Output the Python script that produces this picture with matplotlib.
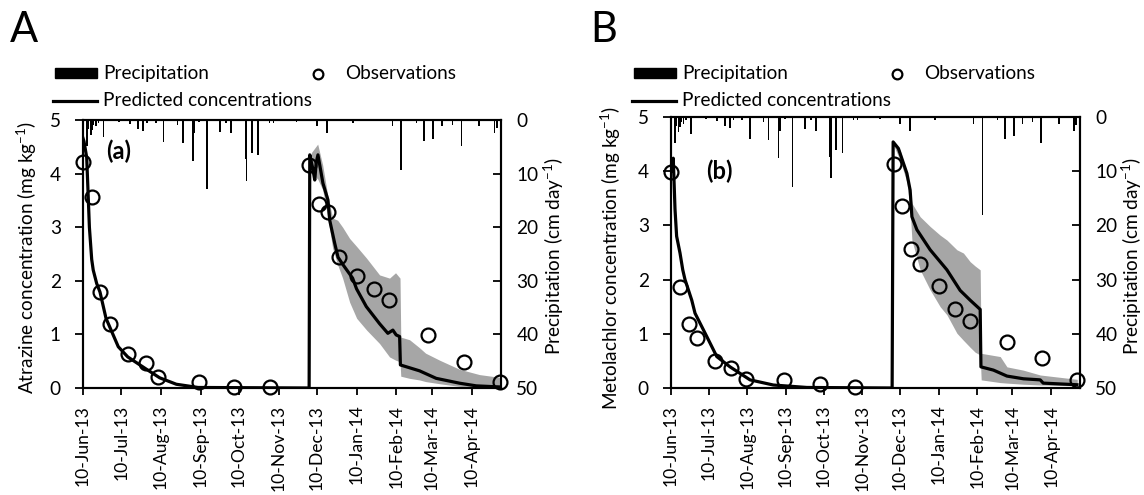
import matplotlib
matplotlib.use('Agg')
import matplotlib.pyplot as plt
import numpy as np
import pandas as pd
from matplotlib.lines import Line2D
from matplotlib.patches import Rectangle

plt.rcParams['font.family'] = ['Lato', 'DejaVu Sans']
plt.rcParams['mathtext.fontset'] = 'custom'
plt.rcParams['mathtext.rm'] = 'Lato'
plt.rcParams['mathtext.default'] = 'regular'

# ---------------- data ----------------
start_date = pd.Timestamp('2013-06-10')
end_date = pd.Timestamp('2014-05-03')
tick_labels = ['10-Jun-13', '10-Jul-13', '10-Aug-13', '10-Sep-13', '10-Oct-13',
               '10-Nov-13', '10-Dec-13', '10-Jan-14', '10-Feb-14', '10-Mar-14',
               '10-Apr-14']
tick_dates = pd.to_datetime(tick_labels, format='%d-%b-%y')

# precipitation (days after 10-Jun-13, cm/day)
precip_day = [3, 4, 6, 7, 8, 10, 12, 16, 28, 37, 43, 47, 50, 57, 63, 74, 78, 86, 87, 91,
              97, 107, 112, 116, 127, 128, 132, 137, 146, 149, 167, 183, 191, 211, 242,
              249, 261, 267, 274, 281, 289, 296, 310, 322, 324]
precip_a = [4.8, 1.6, 2.8, 1.8, 0.9, 1.2, 0.6, 3.2, 0.3, 0.8, 1.6, 2.0, 0.6, 0.5, 4.1, 0.9,
            4.2, 7.6, 2.5, 0.3, 12.9, 2.2, 0.6, 2.5, 7.3, 11.3, 6.1, 6.6, 0.6, 0.6, 0.3,
            1.2, 2.5, 0.6, 1.2, 9.3, 0.6, 4.0, 3.5, 1.2, 0.9, 4.8, 1.2, 2.5, 1.5]
precip_b = [4.8, 1.6, 2.8, 1.8, 0.9, 1.2, 0.6, 3.2, 0.3, 0.8, 1.6, 2.0, 0.6, 0.5, 4.1, 0.9,
            4.2, 7.6, 2.5, 0.3, 12.9, 2.2, 0.6, 2.5, 7.3, 11.3, 6.1, 6.6, 0.6, 0.6, 0.3,
            1.2, 2.5, 0.6, 1.2, 18.0, 0.6, 4.0, 3.5, 1.2, 0.9, 4.8, 1.2, 2.5, 1.5]

# Atrazine (panel A)
obs_a_day = [0, 7, 13, 21, 35, 49, 59, 91, 118, 146, 177, 185, 192, 200, 214, 228, 239,
             270, 298, 326]
obs_a = [4.21, 3.56, 1.79, 1.19, 0.63, 0.47, 0.21, 0.11, 0.01, 0.01, 4.16, 3.43, 3.28,
         2.44, 2.09, 1.85, 1.64, 0.99, 0.48, 0.11]
pred_a_day = [0, 0.8, 2.9, 4.1, 5, 6.8, 8, 10.7, 13.3, 18, 27.6, 35, 49, 60, 73, 90,
              176.9, 177.4, 179.7, 181.3, 182.4, 183.8, 187.7, 191.6, 193, 196.9, 199.5,
              203.4, 210.9, 214, 221.6, 232, 238.5, 242.4, 245, 247.7, 248.3, 263.3,
              276.3, 294.5, 307.6, 325.8]
pred_a = [4.66, 4.6, 4.3, 3.56, 3.0, 2.4, 2.2, 1.95, 1.79, 1.3, 0.77, 0.58, 0.36, 0.19,
          0.07, 0.01, 0.0, 4.35, 4.1, 3.88, 4.2, 4.35, 3.82, 3.51, 3.13, 2.70, 2.44, 2.3,
          2.05, 1.85, 1.52, 1.2, 1.02, 1.08, 0.99, 0.96, 0.43, 0.32, 0.18, 0.09, 0.04, 0.02]
band_a_day = [177.3, 178.9, 183.6, 187.5, 191.4, 195.3, 199.2, 203.1, 208.6, 214.1, 221.9,
              232, 239.8, 244.5, 248.0, 248.6, 255.5, 263.3, 268.0, 278.9, 294.5, 310.2,
              325.8]
band_a_low = [4.0, 4.0, 3.9, 3.7, 3.2, 2.61, 2.3, 2.05, 1.6, 1.3, 1.08, 0.83, 0.58, 0.52,
              0.49, 0.22, 0.18, 0.15, 0.12, 0.08, 0.03, 0.01, 0.0]
band_a_up = [4.3, 4.4, 4.55, 4.16, 3.6, 3.17, 3.13, 3.0, 2.79, 2.64, 2.42, 2.11, 2.05, 2.15,
             2.05, 0.95, 0.9, 0.75, 0.65, 0.52, 0.35, 0.25, 0.2]

# Metolachlor (panel B)
obs_b_day = [0, 7, 14, 21, 35, 48, 60, 90, 119, 147, 178, 185, 192, 199, 214, 227, 239,
             269, 297, 325]
obs_b = [3.99, 1.87, 1.18, 0.93, 0.49, 0.36, 0.16, 0.15, 0.07, 0.01, 4.13, 3.35, 2.56,
         2.29, 1.89, 1.45, 1.24, 0.85, 0.55, 0.15]
pred_b_day = [0.3, 1.8, 3.2, 4.5, 7.2, 9.4, 11.2, 16.6, 19.2, 28.6, 36.6, 47.2, 63.2, 81.8,
              108.6, 176.8, 177.6, 181.8, 188.6, 191.2, 192.6, 196.6, 207.2, 220.6, 231.2,
              239.2, 247.2, 247.8, 257.8, 268.6, 281.8, 295.2, 297.6, 324.6]
pred_b = [4.0, 4.24, 3.3, 2.8, 2.49, 2.18, 2.0, 1.62, 1.38, 0.95, 0.58, 0.39, 0.15, 0.055,
          0.01, 0.0, 4.54, 4.42, 3.96, 3.65, 3.16, 2.92, 2.55, 2.18, 1.8, 1.62, 1.45, 0.39,
          0.33, 0.22, 0.17, 0.15, 0.09, 0.06]
band_b_day = [177.6, 183.2, 188.6, 191.2, 192.6, 199.2, 207.2, 215.2, 220.6, 228.6, 233.8,
              239.2, 243.2, 247.2, 248.0, 263.2, 268.6, 281.6, 295.2, 324.8]
band_b_low = [4.5, 4.2, 3.8, 3.3, 2.73, 2.18, 1.81, 1.5, 1.35, 1.01, 0.88, 0.75, 0.66, 0.61,
              0.15, 0.10, 0.09, 0.07, 0.055, 0.04]
band_b_up = [4.55, 4.39, 3.96, 3.7, 3.41, 3.16, 2.98, 2.82, 2.73, 2.55, 2.49, 2.33, 2.25,
             2.18, 0.64, 0.58, 0.39, 0.33, 0.24, 0.16]


def to_dates(days):
    return start_date + pd.to_timedelta(np.asarray(days, dtype=float), unit='D')


W, H = 1144, 495
fig = plt.figure(figsize=(W / 100, H / 100), dpi=100)


def fx(px):
    return px / W


def fy(py):
    return 1 - py / H


FS = 13.7
XFS = 12.6
GRAY = '#a6a6a6'


def panel(rect, pdays, pvals, bday, blow, bup, odays, ovals, precip, tag, ylabel,
          letter, letter_x, tag_xy, leg_x0, obs_x, right_label_x, left_label_x):
    ax = fig.add_axes(rect)
    ax2 = ax.twinx()
    ax.set_zorder(ax2.get_zorder() + 1)
    ax.patch.set_visible(False)

    ax2.bar(to_dates(precip_day), precip, width=1.3, color='black', align='center')
    ax2.set_ylim(50, 0)
    ax2.set_yticks([0, 10, 20, 30, 40, 50])

    ax.fill_between(to_dates(bday), blow, bup, color=GRAY, linewidth=0, zorder=1)
    ax.plot(to_dates(pdays), pvals, color='black', lw=2.3, zorder=3,
            solid_joinstyle='round')
    ax.plot(to_dates(odays), ovals, linestyle='none', marker='o', ms=10,
            mfc='none', mec='black', mew=1.6, zorder=4, clip_on=False)

    ax.set_ylim(0, 5)
    ax.set_yticks([0, 1, 2, 3, 4, 5])
    ax.set_xlim(start_date, end_date)
    ax.set_xticks(tick_dates)
    ax.set_xticklabels(tick_labels, rotation=90)

    for a in (ax, ax2):
        for s in a.spines.values():
            s.set_linewidth(1.5)
    ax.tick_params(axis='y', direction='out', length=6, width=1.3, pad=10, labelsize=FS)
    ax.tick_params(axis='x', direction='out', length=5, width=1.3, pad=7, labelsize=XFS)
    ax2.tick_params(axis='y', direction='in', length=6, width=1.3, pad=11, labelsize=FS)

    ax.text(tag_xy[0], tag_xy[1], tag, transform=ax.transAxes, fontsize=17,
            fontweight='bold', ha='left', va='center')

    fig.text(fx(left_label_x), fy(258), ylabel, rotation=90, ha='center', va='center',
             fontsize=FS)
    fig.text(fx(right_label_x), fy(256), 'Precipitation (cm day$^{-1}$)', rotation=90,
             ha='center', va='center', fontsize=FS)

    fig.text(fx(letter_x), fy(30), letter, fontsize=30, ha='left', va='center')

    # legend
    fig.add_artist(Rectangle((fx(leg_x0), fy(78)), fx(42), 10 / H,
                             transform=fig.transFigure, color='black'))
    fig.text(fx(leg_x0 + 48), fy(73), 'Precipitation', fontsize=FS, ha='left',
             va='center')
    fig.add_artist(Line2D([fx(obs_x)], [fy(74)], marker='o', ms=7, mfc='none',
                          mec='black', mew=1.6, transform=fig.transFigure))
    fig.text(fx(obs_x + 27), fy(73), 'Observations', fontsize=FS, ha='left',
             va='center')
    fig.add_artist(Line2D([fx(leg_x0 - 2), fx(leg_x0 + 42)], [fy(101), fy(101)],
                          color='black', lw=2.3, transform=fig.transFigure))
    fig.text(fx(leg_x0 + 48), fy(101), 'Predicted concentrations', fontsize=FS,
             ha='left', va='center')
    return ax


panel([fx(83), fy(388), fx(501) - fx(83), (388 - 120) / H],
      pred_a_day, pred_a, band_a_day, band_a_low, band_a_up, obs_a_day, obs_a, precip_a,
      '(a)', 'Atrazine concentration (mg kg$^{-1}$)', 'A', 10, (0.055, 0.885),
      55, 318, 554, 27)

panel([fx(671), fy(388), fx(1080) - fx(671), (388 - 117) / H],
      pred_b_day, pred_b, band_b_day, band_b_low, band_b_up, obs_b_day, obs_b, precip_b,
      '(b)', 'Metolachlor concentration (mg kg$^{-1}$)', 'B', 590, (0.085, 0.80),
      634, 897, 1132, 611)

fig.savefig('out.png', dpi=100)
